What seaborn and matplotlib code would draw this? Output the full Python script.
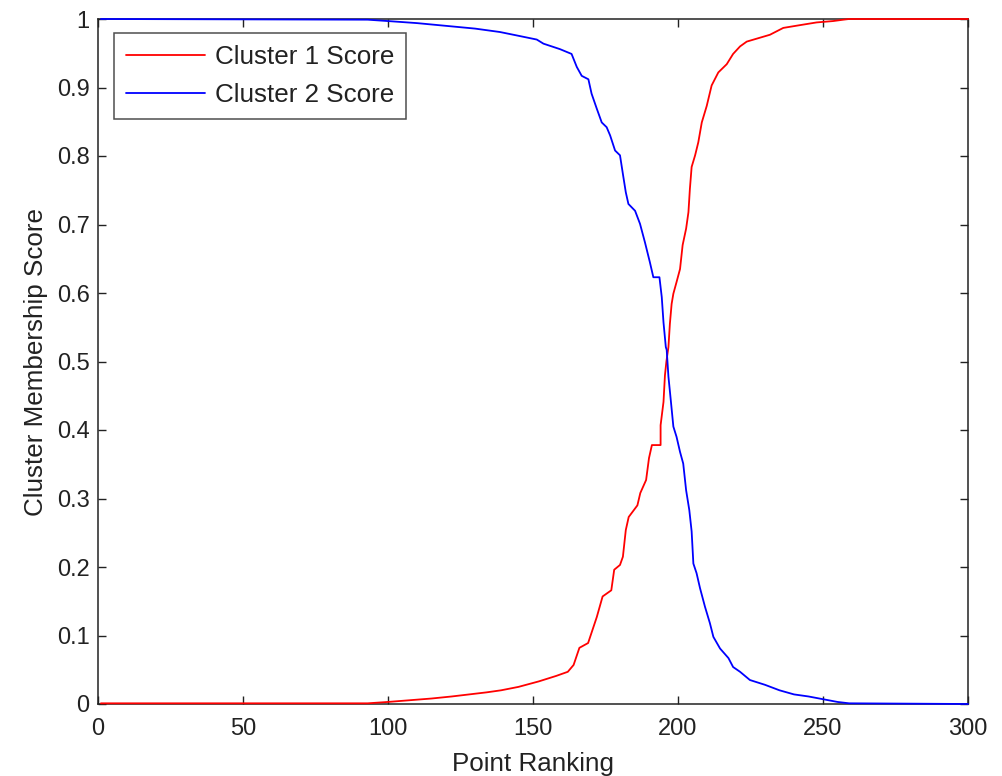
import matplotlib
matplotlib.use("Agg")
import matplotlib.pyplot as plt
import seaborn as sns
import pandas as pd

# Cluster 1 score
c1_rank = [1, 93, 100, 109, 115, 122, 128, 134, 139, 145, 152, 158, 162, 164, 166, 169,
           172, 174, 177, 178, 180, 181, 182, 183, 186, 187, 189, 190, 191, 194, 194,
           195, 195.5, 196, 196.7, 197.2, 197.8, 198.4, 199.5, 200.7, 201.6, 202.8,
           203.6, 204.1, 204.7, 205.9, 207, 208.2, 209.9, 211.6, 213.9, 216.8, 219,
           221.4, 223.7, 227.7, 231.7, 236.3, 242, 247.8, 253.5, 257, 259, 300]
c1_score = [0.001, 0.001, 0.003, 0.006, 0.008, 0.011, 0.014, 0.017, 0.020, 0.025, 0.033,
            0.041, 0.047, 0.057, 0.082, 0.089, 0.127, 0.157, 0.166, 0.196, 0.203, 0.215,
            0.254, 0.273, 0.290, 0.308, 0.327, 0.359, 0.378, 0.378, 0.407, 0.441, 0.480,
            0.500, 0.521, 0.555, 0.584, 0.599, 0.616, 0.635, 0.670, 0.694, 0.718, 0.752,
            0.784, 0.801, 0.820, 0.849, 0.873, 0.903, 0.922, 0.934, 0.949, 0.960, 0.967,
            0.972, 0.977, 0.987, 0.991, 0.995, 0.997, 0.999, 1.0, 1.0]

# Cluster 2 score
c2_rank = [1, 93, 100, 110, 120, 130, 138.6, 144.4, 151.3, 153.6, 159.3, 163.3, 165.1,
           166.8, 169.1, 170.2, 172, 173.7, 175.4, 176.6, 178.3, 180, 181.1, 182, 182.9,
           185.2, 186.9, 188.6, 190.3, 191.5, 193.6, 194.4, 195, 195.8, 196.1, 196.7,
           197.5, 198.4, 199.5, 200.7, 201.8, 202.8, 203.9, 204.7, 205.3, 206.4, 207.6,
           209.3, 211, 212.2, 214.5, 217.4, 219, 221.4, 224.8, 230, 235, 240, 245, 250,
           255, 259, 300]
c2_score = [1.0, 0.999, 0.997, 0.994, 0.990, 0.986, 0.981, 0.976, 0.970, 0.964, 0.956,
            0.949, 0.930, 0.917, 0.912, 0.891, 0.869, 0.849, 0.842, 0.830, 0.808, 0.801,
            0.771, 0.747, 0.730, 0.720, 0.701, 0.674, 0.645, 0.623, 0.623, 0.594, 0.557,
            0.521, 0.517, 0.478, 0.444, 0.405, 0.390, 0.368, 0.351, 0.312, 0.283, 0.252,
            0.205, 0.191, 0.169, 0.142, 0.118, 0.098, 0.081, 0.067, 0.054, 0.047, 0.035,
            0.028, 0.020, 0.014, 0.011, 0.007, 0.003, 0.001, 0.0]

x_ticks = [0, 50, 100, 150, 200, 250, 300]
y_ticks = [0, 0.1, 0.2, 0.3, 0.4, 0.5, 0.6, 0.7, 0.8, 0.9, 1]
y_tick_labels = ["0", "0.1", "0.2", "0.3", "0.4", "0.5", "0.6", "0.7", "0.8", "0.9", "1"]

sns.set_theme(style="white")
plt.rcParams['font.family'] = ['Liberation Sans', 'DejaVu Sans']
plt.rcParams['xtick.direction'] = 'in'
plt.rcParams['ytick.direction'] = 'in'

fig = plt.figure(figsize=(10.03, 7.76), dpi=100)
ax = fig.add_axes([98 / 1003, 72 / 776, 870 / 1003, 685 / 776])

df1 = pd.DataFrame({"rank": c1_rank, "score": c1_score})
df2 = pd.DataFrame({"rank": c2_rank, "score": c2_score})
sns.lineplot(data=df1, x="rank", y="score", ax=ax, color=(1, 0, 0), linewidth=1.3,
             sort=False, estimator=None, label="Cluster 1 Score", clip_on=False, zorder=3)
sns.lineplot(data=df2, x="rank", y="score", ax=ax, color=(0, 0, 1), linewidth=1.3,
             sort=False, estimator=None, label="Cluster 2 Score", clip_on=False, zorder=3)

ax.set_xlim(0, 300)
ax.set_ylim(0, 1)
ax.set_xticks(x_ticks)
ax.set_xticklabels([str(t) for t in x_ticks])
ax.set_yticks(y_ticks)
ax.set_yticklabels(y_tick_labels)
fs = 17
lfs = 18.7
ax.tick_params(axis='both', which='both', direction='in', length=6, width=1,
               top=True, right=True, bottom=True, left=True, labelsize=fs,
               colors='#222222', pad=6)
ax.tick_params(axis='x', pad=10)
for s in ax.spines.values():
    s.set_visible(True)
    s.set_color('#222222')
    s.set_linewidth(1.1)
ax.set_xlabel("Point Ranking", fontsize=lfs, color='#222222', labelpad=9)
ax.set_ylabel("Cluster Membership Score", fontsize=lfs, color='#222222', labelpad=6.5)

leg = ax.legend(loc='upper left', bbox_to_anchor=(16 / 870, 1 - 14 / 685),
                borderaxespad=0, fontsize=lfs, frameon=True, fancybox=False,
                handlelength=3.05, handletextpad=0.4, borderpad=0.45, labelspacing=0.55)
leg.get_frame().set_edgecolor('#222222')
leg.get_frame().set_linewidth(1.1)
for t in leg.get_texts():
    t.set_color('#222222')

fig.savefig("out.png", dpi=100, facecolor='white')
